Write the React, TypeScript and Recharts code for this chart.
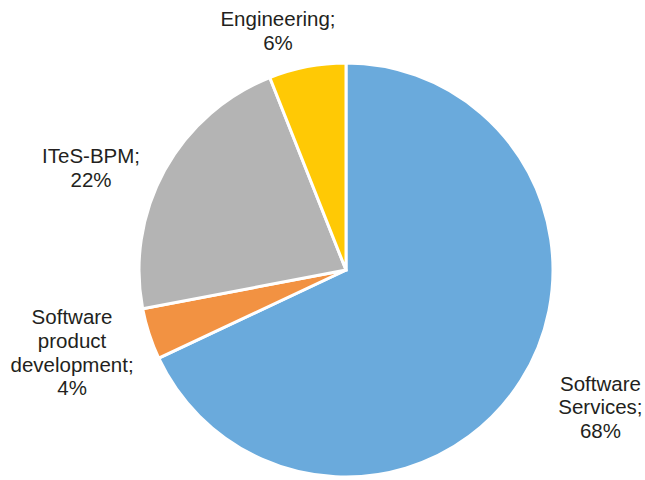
import React from "react";
import { PieChart, Pie, Cell } from "recharts";

const categories = [
  "Software Services",
  "Software product development",
  "ITeS-BPM",
  "Engineering",
];
const shares = [68, 4, 22, 6];
const labelLines = [
  ["Software", "Services;"],
  ["Software", "product", "development;"],
  ["ITeS-BPM;"],
  ["Engineering;"],
];
const colors = ["#6aaadc", "#f29242", "#b4b4b4", "#ffc905"];
const labelNudge: Record<string, [number, number]> = {
  "Software Services": [29, -6],
  "Software product development": [-20, 0],
  "ITeS-BPM": [-21, 26],
  Engineering: [-18, 23],
};

const data = categories.map((name, i) => ({
  name,
  value: shares[i],
  lines: [...labelLines[i], `${shares[i]}%`],
}));

const RAD = Math.PI / 180;
const FS = 20.5;
const LH = 23.6;

const renderLabel = (props: any) => {
  const { cx, cy, midAngle, outerRadius, payload, name } = props;
  const key = name ?? payload?.name;
  const lines: string[] = payload?.lines ?? props.lines;
  const r = outerRadius + 60;
  const nudge = labelNudge[key] || [0, 0];
  const x = cx + r * Math.cos(-midAngle * RAD) + nudge[0];
  const yc = cy + r * Math.sin(-midAngle * RAD) + nudge[1];
  const firstBaseline = yc - ((lines.length - 1) / 2) * LH + FS * 0.358;
  return (
    <text
      x={x}
      y={firstBaseline}
      textAnchor="middle"
      fill="#231f20"
      fontFamily="'Liberation Sans', Arial, sans-serif"
      fontSize={FS}
    >
      {lines.map((l, i) => (
        <tspan key={i} x={x} y={firstBaseline + i * LH}>
          {l}
        </tspan>
      ))}
    </text>
  );
};

export default function App() {
  return (
    <div style={{ position: "absolute", left: 0, top: 0, width: 645, height: 480, background: "#fff" }}>
      <PieChart width={645} height={480} margin={{ top: 0, right: 0, bottom: 0, left: 0 }}>
        <Pie
          data={data}
          dataKey="value"
          nameKey="name"
          cx={346}
          cy={270}
          outerRadius={207}
          startAngle={90}
          endAngle={-270}
          stroke="#ffffff"
          strokeWidth={3}
          label={renderLabel}
          labelLine={false}
          isAnimationActive={false}
        >
          {data.map((d, i) => (
            <Cell key={d.name} fill={colors[i]} />
          ))}
        </Pie>
      </PieChart>
    </div>
  );
}
